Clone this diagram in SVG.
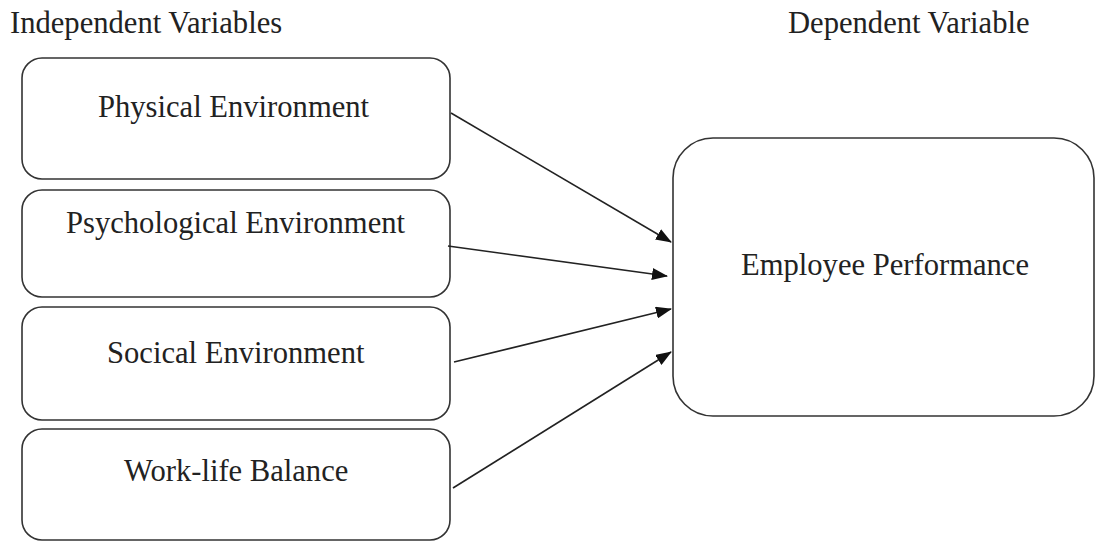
<svg xmlns="http://www.w3.org/2000/svg" width="1096" height="543" viewBox="0 0 1096 543">
<style>
.box{fill:#fff;stroke:#333;stroke-width:1.6}
.t{font-family:"Liberation Serif","Times New Roman",serif;font-size:30.6px;fill:#222}
.c{stroke:#222;stroke-width:1.6;fill:none}
</style>
<defs>
<marker id="ah" markerWidth="16" markerHeight="12" refX="15" refY="6" orient="auto" markerUnits="userSpaceOnUse">
<path d="M0,0 L16,6 L0,12 Z" fill="#111"/>
</marker>
</defs>
<rect width="1096" height="543" fill="#fff"/>
<text class="t" x="10" y="33">Independent Variables</text>
<text class="t" x="788" y="33">Dependent Variable</text>
<g id="n1"><rect class="box" x="22" y="58" width="428" height="121" rx="20"/><text class="t" x="98" y="117">Physical Environment</text></g>
<g id="n2"><rect class="box" x="22" y="190" width="428" height="107" rx="20"/><text class="t" x="66" y="233">Psychological Environment</text></g>
<g id="n3"><rect class="box" x="22" y="307" width="428" height="113" rx="20"/><text class="t" x="107" y="363">Socical Environment</text></g>
<g id="n4"><rect class="box" x="22" y="429" width="428" height="111" rx="20"/><text class="t" x="124" y="481">Work-life Balance</text></g>
<g id="n5"><rect class="box" x="673" y="138" width="421" height="278" rx="40"/><text class="t" x="741" y="275">Employee Performance</text></g>
<g id="connectors">
<line class="c" x1="451" y1="113" x2="671" y2="242" marker-end="url(#ah)"/>
<line class="c" x1="448" y1="246" x2="667" y2="276" marker-end="url(#ah)"/>
<line class="c" x1="454" y1="362" x2="671" y2="309" marker-end="url(#ah)"/>
<line class="c" x1="453" y1="488" x2="671" y2="352" marker-end="url(#ah)"/>
</g>
</svg>
